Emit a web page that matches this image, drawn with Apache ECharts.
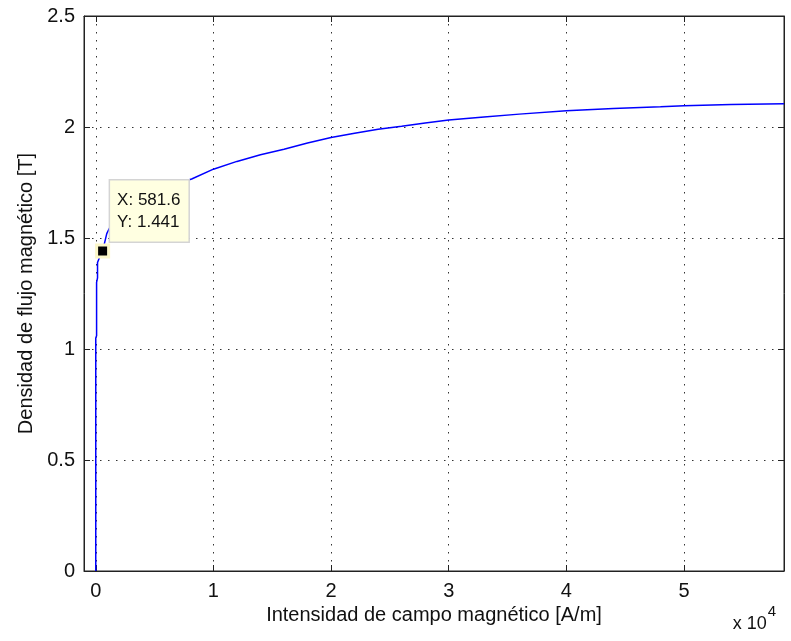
<!DOCTYPE html>
<html>
<head>
<meta charset="utf-8">
<script src="https://cdn.jsdelivr.net/npm/echarts@6/dist/echarts.min.js"></script>
<style>
  html, body { margin: 0; padding: 0; background: #fff; }
  #chart { width: 791px; height: 641px; }
</style>
</head>
<body>
<div id="chart"></div>
<script>
// B-H curve (H in A/m, B in T)
const fieldH = [0, 0, 70, 70, 150, 150, 300, 581.6, 935, 1500, 2500, 4000, 6000, 8150,
  10000, 12000, 14000, 16000, 18000, 20000, 22000, 24000, 26000, 28000, 30000,
  33000, 36000, 40000, 44000, 48000, 50000, 54000, 58500];
const fluxB = [0, 1.05, 1.06, 1.3, 1.32, 1.39, 1.41, 1.441, 1.52, 1.58, 1.63, 1.68, 1.73, 1.766,
  1.81, 1.845, 1.875, 1.9, 1.928, 1.953, 1.972, 1.99, 2.003, 2.018, 2.032,
  2.045, 2.058, 2.073, 2.083, 2.091, 2.096, 2.101, 2.105];
const tipPoint = [581.6, 1.441];
const xTicks = [0, 10000, 20000, 30000, 40000, 50000];
const xRange = [-1000, 58500];
const yRange = [0, 2.5];

const font = 'Liberation Sans, Arial, sans-serif';
const ink = '#111';
const curve = fieldH.map((h, i) => [h, fluxB[i]]);

const chart = echarts.init(document.getElementById('chart'));
const gridDots = { color: '#333', width: 1, type: [1.5, 6.5] };

chart.setOption({
  animation: false,
  grid: {
    left: 84, top: 16, right: 7, bottom: 70,
    show: true, borderColor: '#222', borderWidth: 1,
    containLabel: false, outerBoundsMode: 'none'
  },
  title: {
    text: '{a|x 10}{b|4}',
    right: 10, bottom: 3,
    textStyle: {
      rich: {
        a: { fontFamily: font, fontSize: 18, fontWeight: 'normal', color: ink, verticalAlign: 'bottom' },
        b: { fontFamily: font, fontSize: 15, fontWeight: 'normal', color: ink, verticalAlign: 'top', padding: [0, 0, 14, 1] }
      }
    }
  },
  xAxis: [{
    type: 'value', min: xRange[0], max: xRange[1],
    name: 'Intensidad de campo magnético [A/m]',
    nameLocation: 'middle', nameGap: 30,
    nameTextStyle: { fontFamily: font, fontSize: 20, color: ink },
    axisLine: { show: true, onZero: false, lineStyle: { color: '#222' } },
    axisTick: { show: true, inside: true, length: 6, customValues: xTicks, lineStyle: { color: '#222' } },
    axisLabel: {
      customValues: xTicks, margin: 10, fontFamily: font, fontSize: 20, color: ink,
      formatter: (v) => String(v / 10000)
    },
    splitLine: { show: true, lineStyle: gridDots }
  }, {
    type: 'value', min: xRange[0], max: xRange[1], position: 'top',
    axisLine: { show: true, onZero: false, lineStyle: { color: '#222' } },
    axisTick: { show: true, inside: true, length: 6, customValues: xTicks, lineStyle: { color: '#222' } },
    axisLabel: { show: false },
    splitLine: { show: false }
  }],
  yAxis: [{
    type: 'value', min: yRange[0], max: yRange[1], interval: 0.5,
    name: 'Densidad de flujo magnético [T]',
    nameLocation: 'middle', nameGap: 46,
    nameTextStyle: { fontFamily: font, fontSize: 20, color: ink },
    axisLine: { show: true, onZero: false, lineStyle: { color: '#222' } },
    axisTick: { show: true, inside: true, length: 6, lineStyle: { color: '#222' } },
    axisLabel: { margin: 9, fontFamily: font, fontSize: 20, color: ink },
    splitLine: { show: true, lineStyle: gridDots }
  }, {
    type: 'value', min: yRange[0], max: yRange[1], interval: 0.5, position: 'right',
    axisLine: { show: true, onZero: false, lineStyle: { color: '#222' } },
    axisTick: { show: true, inside: true, length: 6, lineStyle: { color: '#222' } },
    axisLabel: { show: false },
    splitLine: { show: false }
  }],
  series: [{
    type: 'line',
    data: curve,
    showSymbol: false,
    lineStyle: { color: '#0000ff', width: 1.5 },
    z: 2
  }, {
    type: 'scatter',
    data: [tipPoint],
    symbol: 'rect',
    symbolSize: 12,
    itemStyle: { color: '#000', opacity: 1, borderColor: '#fbf6c8', borderWidth: 3 },
    z: 5,
    label: {
      show: true,
      position: [15, -63],
      align: 'left',
      verticalAlign: 'top',
      formatter: () => 'X: ' + tipPoint[0] + '\nY: ' + tipPoint[1],
      fontFamily: font, fontSize: 17, lineHeight: 22, color: ink,
      opacity: 1,
      backgroundColor: '#ffffe1',
      borderColor: '#d4d4d4', borderWidth: 1.5,
      padding: [9, 8, 8, 7]
    }
  }]
});
</script>
</body>
</html>
